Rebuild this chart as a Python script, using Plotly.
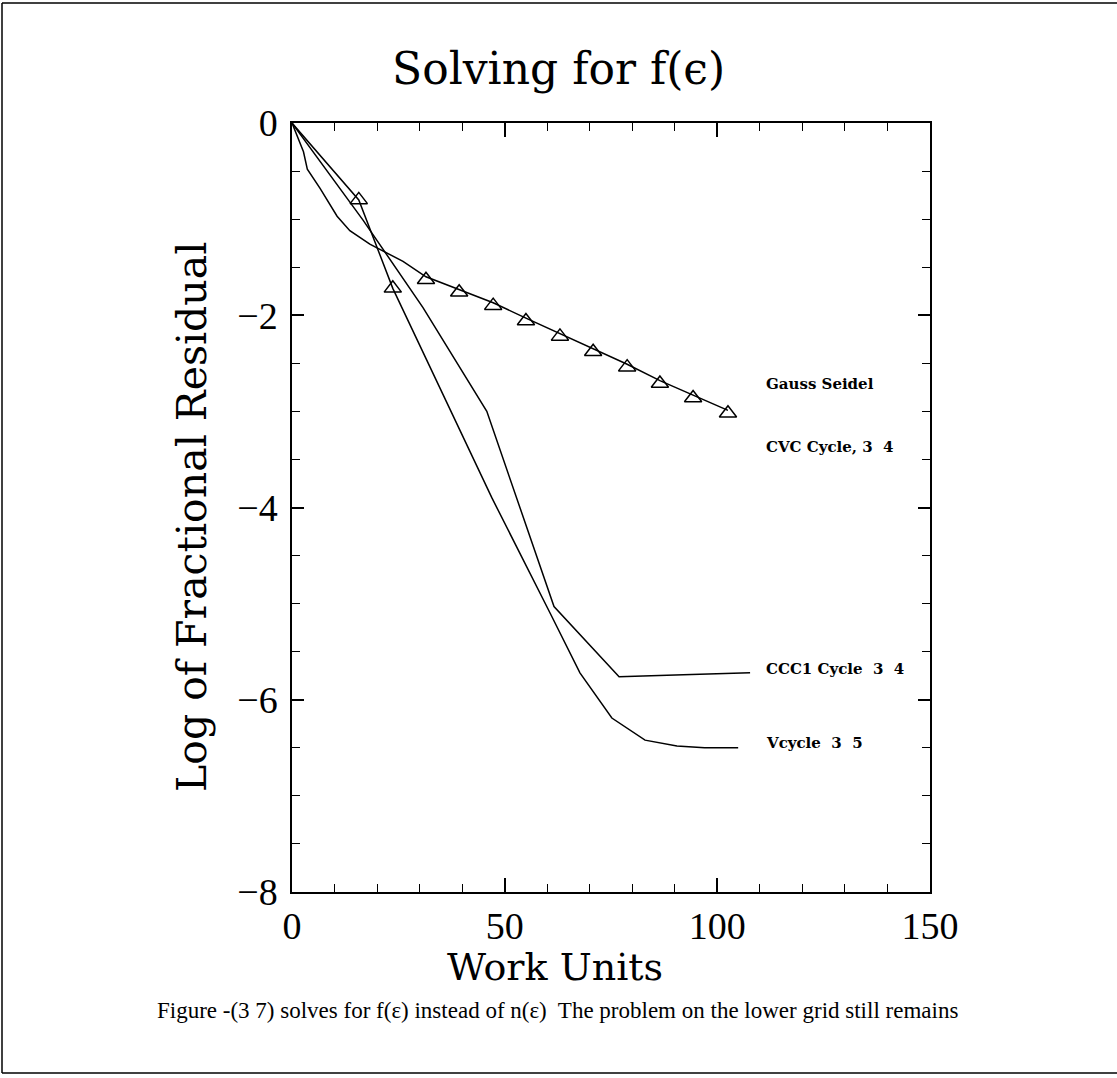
import plotly.graph_objects as go

# Convergence histories: log10 of fractional residual vs. work units
gs_x = [0, 2.7, 3.6, 6.6, 10.6, 13.6, 18.3, 21.4, 26.1, 31.5, 39.3, 47.3, 55.0, 63.0, 70.8, 78.8, 86.5, 94.3, 102.5]
gs_y = [0, -0.30, -0.48, -0.68, -0.97, -1.12, -1.26, -1.33, -1.44, -1.60, -1.73, -1.87, -2.03, -2.19, -2.35, -2.51, -2.68, -2.83, -2.99]

ccc1_x = [0, 16.7, 30.8, 45.8, 61.6, 76.9, 92.0, 107.7]
ccc1_y = [0, -1.01, -1.92, -3.00, -5.03, -5.76, -5.74, -5.72]

vcyc_x = [0, 15.7, 23.7, 47.0, 60.7, 67.7, 75.2, 83.0, 90.5, 97.0, 104.9]
vcyc_y = [0, -0.80, -1.72, -3.90, -5.10, -5.72, -6.19, -6.42, -6.48, -6.50, -6.50]

# Triangle markers (CVC cycle samples)
tri_x = [15.7, 23.7, 31.5, 39.3, 47.3, 55.0, 63.0, 70.8, 78.8, 86.5, 94.3, 102.5]
tri_y = [-0.80, -1.72, -1.63, -1.76, -1.90, -2.06, -2.22, -2.38, -2.54, -2.71, -2.86, -3.02]

# Curve labels
label_text = ["Gauss Seidel", "CVC Cycle, 3  4", "CCC1 Cycle  3  4", "Vcycle  3  5"]
label_y = [-2.71, -3.37, -5.68, -6.45]
label_x = 111.0

x_ticks = [0, 50, 100, 150]
y_ticks = [0, -2, -4, -6, -8]

fig = go.Figure()
line_style = dict(color="black", width=1.5)
for xs, ys in [(gs_x, gs_y), (ccc1_x, ccc1_y), (vcyc_x, vcyc_y)]:
    fig.add_trace(go.Scatter(x=xs, y=ys, mode="lines", line=line_style,
                             showlegend=False, hoverinfo="skip"))
fig.add_trace(go.Scatter(x=tri_x, y=tri_y, mode="markers",
                         marker=dict(symbol="triangle-up-open", size=15,
                                     color="black", line=dict(width=1.5)),
                         showlegend=False, hoverinfo="skip"))

for t, y in zip(label_text, label_y):
    fig.add_annotation(x=label_x, y=y, text=t, showarrow=False,
                       xanchor="left", yanchor="middle",
                       font=dict(family="DejaVu Serif", size=15, color="black",
                                 weight="bold"))

serif = "DejaVu Serif"
tick_font = dict(family="Liberation Serif", size=38, color="black")

fig.update_xaxes(range=[0, 150], tickvals=x_ticks, ticks="inside", ticklen=14,
                 tickwidth=1.5, tickcolor="black", showline=True, linecolor="black",
                 linewidth=1.5, mirror="allticks", showgrid=False, zeroline=False,
                 tickfont=tick_font, ticklabelstandoff=0,
                 minor=dict(dtick=10, ticks="inside", ticklen=8, tickwidth=1.2,
                            tickcolor="black", showgrid=False))
fig.update_yaxes(range=[-8, 0], tickvals=y_ticks, ticks="inside", ticklen=12,
                 tickwidth=1.5, tickcolor="black", showline=True, linecolor="black",
                 linewidth=1.5, mirror="allticks", showgrid=False, zeroline=False,
                 tickfont=tick_font, ticklabelstandoff=5,
                 minor=dict(dtick=0.5, ticks="inside", ticklen=8, tickwidth=1.2,
                            tickcolor="black", showgrid=False))

L, R, T, B = 292, 930, 123, 892
W, H = 1117, 1078


def px(xp):
    return (xp - L) / (R - L)


def py(yp):
    return (B - yp) / (B - T)


fig.add_annotation(xref="paper", yref="paper", x=px(558), y=py(68),
                   text="Solving for f(ϵ)", showarrow=False,
                   xanchor="center", yanchor="middle",
                   font=dict(family=serif, size=44, color="black"))
fig.add_annotation(xref="paper", yref="paper", x=px(555), y=py(967),
                   text="Work Units", showarrow=False,
                   xanchor="center", yanchor="middle",
                   font=dict(family=serif, size=38, color="black"))
fig.add_annotation(xref="paper", yref="paper", x=px(192), y=py(517),
                   text="Log of Fractional Residual", showarrow=False,
                   textangle=-90, xanchor="center", yanchor="middle",
                   font=dict(family=serif, size=41, color="black"))
fig.add_annotation(xref="paper", yref="paper", x=px(557), y=py(1010),
                   text="Figure -(3 7) solves for f(ε) instead of n(ε)  The problem on the lower grid still remains",
                   showarrow=False, xanchor="center", yanchor="middle",
                   font=dict(family="Liberation Serif", size=23, color="black"))

# Outer frame (left, top, bottom)
frame = dict(xref="paper", yref="paper", type="line",
             line=dict(color="black", width=1.5))
fig.add_shape(**frame, x0=px(2), x1=px(2), y0=py(3), y1=py(1073))
fig.add_shape(**frame, x0=px(2), x1=px(1117), y0=py(3), y1=py(3))
fig.add_shape(**frame, x0=px(2), x1=px(1117), y0=py(1073), y1=py(1073))

fig.update_layout(width=W, height=H, autosize=False,
                  margin=dict(l=L, r=W - R, t=T, b=H - B),
                  plot_bgcolor="white", paper_bgcolor="white")

fig.write_html("out.html")
